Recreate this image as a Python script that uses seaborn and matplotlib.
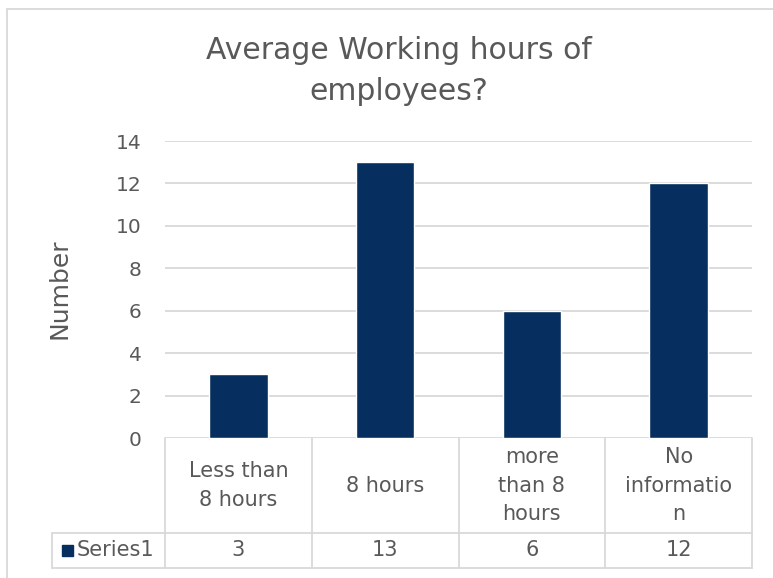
import matplotlib
matplotlib.use('Agg')
import matplotlib.pyplot as plt
import seaborn as sns
from matplotlib.lines import Line2D
from matplotlib.patches import Rectangle
from matplotlib.transforms import blended_transform_factory

# data
categories = ['Less than 8 hours', '8 hours', 'more than 8 hours', 'No information']
cat_labels = ['Less than\n8 hours', '8 hours', 'more\nthan 8\nhours', 'No\ninformatio\nn']
values = [3, 13, 6, 12]
series_name = 'Series1'
y_ticks = [0, 2, 4, 6, 8, 10, 12, 14]

navy = '#062f5f'
grey_txt = '#595959'
line_c = '#d9d9d9'

sns.set_style('white')
plt.rcParams['font.family'] = ['DejaVu Sans']

W, H = 773, 578
fig = plt.figure(figsize=(W / 100, H / 100), dpi=100)

# plot area in pixels
x0, x1, y_top, y_zero = 165, 752, 141, 438
ax = fig.add_axes([x0 / W, (H - y_zero) / H, (x1 - x0) / W, (y_zero - y_top) / H])

sns.barplot(x=categories, y=values, color=navy, width=0.4, saturation=1, ax=ax)
ax.set_xlim(-0.5, len(categories) - 0.5)
ax.set_ylim(0, 14)
ax.set_yticks(y_ticks)
ax.set_yticklabels([str(t) for t in y_ticks], fontsize=14.5, color=grey_txt)
ax.tick_params(axis='y', length=0, pad=17)
ax.set_xticks([])
ax.set_xlabel('')
ax.set_ylabel('')
for t in y_ticks:
    ax.axhline(t, color=line_c, lw=1.3, zorder=0)
for s in ax.spines.values():
    s.set_visible(False)

fs = 15

# y label
fig.text(60 / W, 1 - 289 / H, 'Number', rotation=90, ha='center', va='center',
         fontsize=18, color=grey_txt)

# title
fig.text(399 / W, 1 - 71 / H, 'Average Working hours of\nemployees?', ha='center',
         va='center', fontsize=21.5, color=grey_txt, linespacing=1.55)

# data table
tr = blended_transform_factory(ax.transData, ax.transAxes)
row1 = (y_zero - 533) / (y_zero - y_top)
row2 = (y_zero - 568) / (y_zero - y_top)
left_ax = (52 - x0) / (x1 - x0)
n = len(categories)
lw = 1.3
for b in [i - 0.5 for i in range(n + 1)]:
    ax.add_line(Line2D([b, b], [0, row2], transform=tr, color=line_c, lw=lw, clip_on=False))
for yy in [row1, row2]:
    ax.add_line(Line2D([left_ax, 1], [yy, yy], transform=ax.transAxes, color=line_c,
                       lw=lw, clip_on=False))
ax.add_line(Line2D([left_ax, left_ax], [row1, row2], transform=ax.transAxes, color=line_c,
                   lw=lw, clip_on=False))

for i, (lab, v) in enumerate(zip(cat_labels, values)):
    ax.text(i, row1 / 2, lab, transform=tr, ha='center', va='center', fontsize=fs,
            color=grey_txt, linespacing=1.55)
    ax.text(i, (row1 + row2) / 2, str(v), transform=tr, ha='center', va='center',
            fontsize=fs, color=grey_txt)

# legend key in the table
key_x = (62 - x0) / (x1 - x0)
key_w = 11 / (x1 - x0)
key_h = 11 / (y_zero - y_top)
ym = (row1 + row2) / 2
ax.add_patch(Rectangle((key_x, ym - key_h / 2), key_w, key_h, transform=ax.transAxes,
                       color=navy, clip_on=False))
ax.text((77 - x0) / (x1 - x0), ym, series_name, transform=ax.transAxes, ha='left',
        va='center', fontsize=fs, color=grey_txt)

# chart border
fig.add_artist(Line2D([7 / W, 7 / W], [0, 1 - 9 / H], transform=fig.transFigure,
                      color=line_c, lw=1.3))
fig.add_artist(Line2D([7 / W, 1], [1 - 9 / H, 1 - 9 / H], transform=fig.transFigure,
                      color=line_c, lw=1.3))

fig.savefig('out.png', dpi=100, facecolor='white')
